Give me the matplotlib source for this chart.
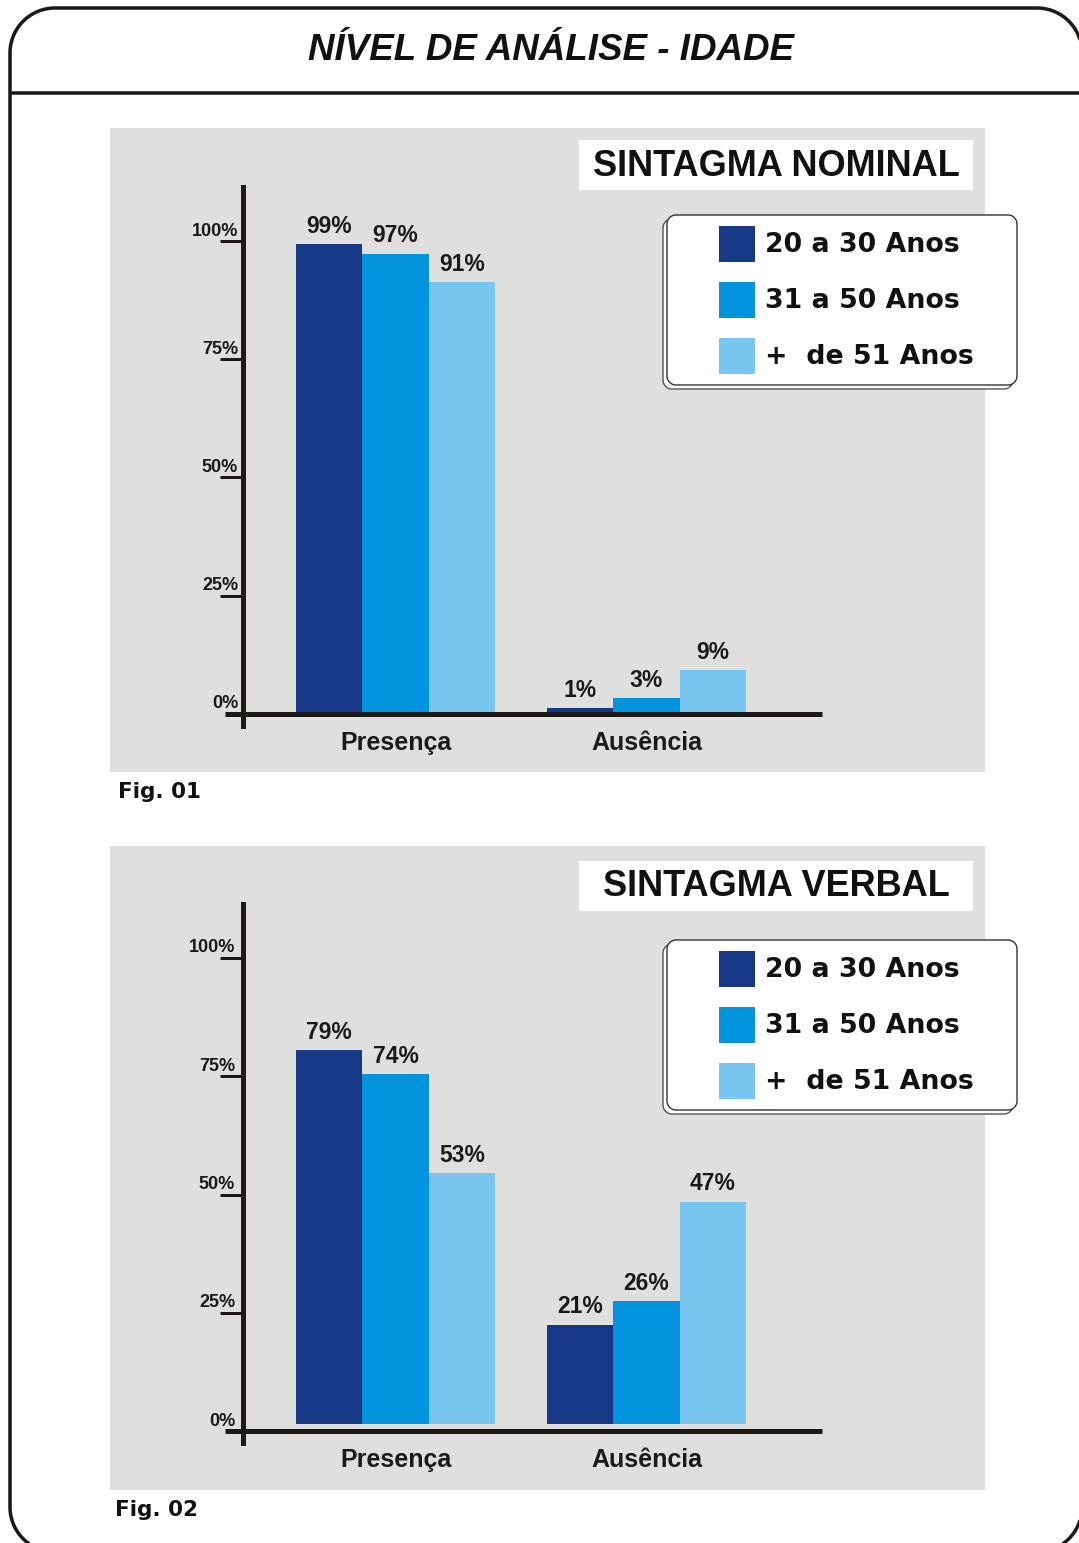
import matplotlib

matplotlib.use("Agg")

import matplotlib.pyplot as plt
import numpy as np
from matplotlib.patches import Polygon, Rectangle

W, H = 1079, 1543
DPI = 100
PT = 72.0 / DPI  # points per pixel

CATEGORIES = ["Presença", "Ausência"]
AGE_GROUPS = ["20 a 30 Anos", "31 a 50 Anos", "+  de 51 Anos"]
AGE_COLORS = ["#173884", "#0394dd", "#78c5f0"]

# percentages per age group: [Presença, Ausência]
NOMINAL_20_30 = [99, 1]
NOMINAL_31_50 = [97, 3]
NOMINAL_51 = [91, 9]
VERBAL_20_30 = [79, 21]
VERBAL_31_50 = [74, 26]
VERBAL_51 = [53, 47]

Y_TICKS = [0, 25, 50, 75, 100]
TITLE = "NÍVEL DE ANÁLISE - IDADE"
PANEL_TITLES = ["SINTAGMA NOMINAL", "SINTAGMA VERBAL"]
FIG_LABELS = ["Fig. 01", "Fig. 02"]

INK = "#1c1917"
PANEL_BG = "#dfdfdd"

# pixel layout of the two panels
PANELS = [
    {
        "series": [NOMINAL_20_30, NOMINAL_31_50, NOMINAL_51],
        "bg": (110, 128, 985, 772),
        "title_box": (579, 140, 973, 190),
        "legend": (667, 215, 1017, 385),
        "axis_top": 185, "axis_bottom": 729,
        "zero": 712.5, "axis_line": 714,
        "tick_dx": -5, "fig_label": (118, 792),
    },
    {
        "series": [VERBAL_20_30, VERBAL_31_50, VERBAL_51],
        "bg": (110, 846, 985, 1490),
        "title_box": (579, 861, 973, 911),
        "legend": (667, 940, 1017, 1110),
        "axis_top": 902, "axis_bottom": 1446,
        "zero": 1424, "axis_line": 1431,
        "tick_dx": -8, "fig_label": (115, 1510),
    },
]

SCALE = 4.73          # pixels per percentage point
GROUP_X0 = 395.5      # pixel x of the first group centre
GROUP_DX = 251.0      # pixels between group centres
BAR_W = 66.5 / GROUP_DX
AX_LEFT, AX_RIGHT = 214, 826
YAXIS_X, XAXIS_L, XAXIS_R, TICK_L = 243, 225, 822, 220


def to_x(px):
    return (px - GROUP_X0) / GROUP_DX


def rounded_rect(x0, y0, x1, y1, r, n=24):
    """Outline of a rounded rectangle in y-down pixel coordinates."""
    corners = [
        (x1 - r, y0 + r, -90, 0),
        (x1 - r, y1 - r, 0, 90),
        (x0 + r, y1 - r, 90, 180),
        (x0 + r, y0 + r, 180, 270),
    ]
    pts = []
    for cx, cy, a0, a1 in corners:
        t = np.radians(np.linspace(a0, a1, n))
        pts.append(np.column_stack([cx + r * np.cos(t), cy + r * np.sin(t)]))
    return np.vstack(pts)


fig = plt.figure(figsize=(W / DPI, H / DPI), dpi=DPI)
fig.patch.set_facecolor("white")

bg = fig.add_axes([0, 0, 1, 1])
bg.set_xlim(0, W)
bg.set_ylim(H, 0)
bg.axis("off")

# outer rounded frame and header rule
bg.add_patch(Polygon(rounded_rect(10, 8, 1082, 1552, 45), closed=True,
                     fill=False, ec=INK, lw=3.5 * PT, joinstyle="round"))
bg.plot([10, W], [93, 93], color=INK, lw=3.5 * PT, solid_capstyle="butt")
bg.text(551, 50, TITLE, ha="center", va="center", family="Liberation Sans",
        fontweight="bold", style="italic", fontsize=26.5, color="#111111")

for panel, box_title, fig_label in zip(PANELS, PANEL_TITLES, FIG_LABELS):
    x0, y0, x1, y1 = panel["bg"]
    bg.add_patch(Rectangle((x0, y0), x1 - x0, y1 - y0, fc=PANEL_BG, ec="none"))

    tx0, ty0, tx1, ty1 = panel["title_box"]
    bg.add_patch(Rectangle((tx0, ty0), tx1 - tx0, ty1 - ty0, fc="white", ec="none"))
    bg.text((tx0 + tx1) / 2, (ty0 + ty1) / 2 + 1, box_title, ha="center",
            va="center", family="Liberation Sans", fontweight="bold",
            fontsize=26, color="#111111")

    # legend box with an offset outline behind it
    lx0, ly0, lx1, ly1 = panel["legend"]
    bg.add_patch(Polygon(rounded_rect(lx0 - 4, ly0 + 4, lx1 - 4, ly1 + 4, 9),
                         closed=True, fc="white", ec="#555555", lw=1.4 * PT))
    bg.add_patch(Polygon(rounded_rect(lx0, ly0, lx1, ly1, 9),
                         closed=True, fc="white", ec="#333333", lw=1.4 * PT))
    for i, (name, color) in enumerate(zip(AGE_GROUPS, AGE_COLORS)):
        sy = ly0 + 11 + i * 56
        bg.add_patch(Rectangle((lx0 + 52, sy), 36, 36, fc=color, ec="none"))
        bg.text(lx0 + 98, sy + 19, name, ha="left", va="center",
                family="DejaVu Sans", fontweight="bold", fontsize=19.3,
                color="#111111")

    bg.text(*panel["fig_label"], fig_label, ha="left", va="center",
            family="DejaVu Sans", fontweight="bold", fontsize=15.5,
            color="#111111")

    # bar chart
    top, bottom, zero = panel["axis_top"], panel["axis_bottom"], panel["zero"]
    ax = fig.add_axes([AX_LEFT / W, 1 - bottom / H,
                       (AX_RIGHT - AX_LEFT) / W, (bottom - top) / H])
    ax.set_xlim(to_x(AX_LEFT), to_x(AX_RIGHT))
    ax.set_ylim(-(bottom - zero) / SCALE, (zero - top) / SCALE)
    ax.axis("off")

    base = (zero - panel["axis_line"]) / SCALE
    x = np.arange(len(CATEGORIES))
    for i, (values, color) in enumerate(zip(panel["series"], AGE_COLORS)):
        bx = x + (i - 1) * BAR_W
        ax.bar(bx, values, width=BAR_W, color=color, linewidth=0, zorder=2)
        for xi, v in zip(bx, values):
            ax.annotate(f"{v}%", (xi, v), xytext=(0, 4.5),
                        textcoords="offset points", ha="center", va="bottom",
                        family="Liberation Sans", fontweight="bold",
                        fontsize=16.5, color="#1a1a1a")

    ax.axvline(to_x(YAXIS_X), color=INK, lw=5 * PT, zorder=3)
    ax.plot([to_x(XAXIS_L), to_x(XAXIS_R)], [base, base], color=INK,
            lw=5 * PT, solid_capstyle="butt", zorder=3)
    ticks = np.array(Y_TICKS) + base
    ax.hlines(ticks[1:], to_x(TICK_L), to_x(YAXIS_X), color=INK,
              lw=3 * PT, zorder=3)
    for t, v in zip(ticks, Y_TICKS):
        ax.annotate(f"{v}%", (to_x(YAXIS_X), t),
                    xytext=(panel["tick_dx"] * PT, 1.5 * PT),
                    textcoords="offset points", ha="right", va="bottom",
                    family="Liberation Sans", fontweight="bold",
                    fontsize=13, color="#1a1a1a")

    for xi, name in zip(x, CATEGORIES):
        ax.annotate(name, (xi, base), xytext=(0, -29 * PT),
                    textcoords="offset points", ha="center", va="center",
                    family="Liberation Sans", fontweight="bold",
                    fontsize=18, color="#1a1a1a")

fig.savefig("out.png", dpi=DPI, facecolor=fig.get_facecolor())
